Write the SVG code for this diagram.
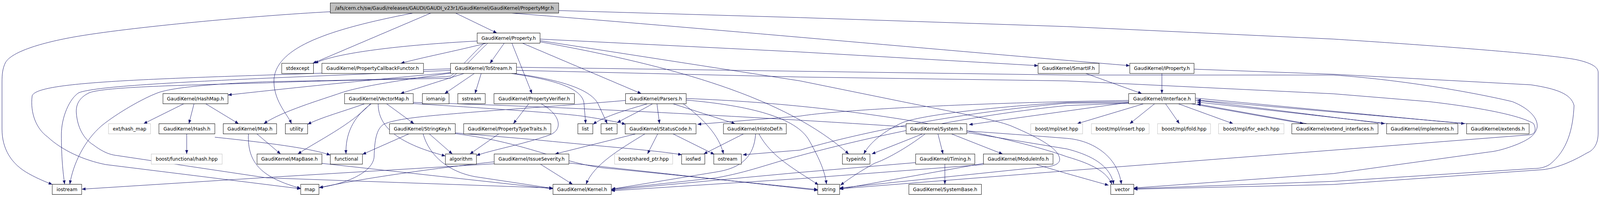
<svg xmlns="http://www.w3.org/2000/svg" width="4379" height="504" viewBox="0 0 4379 504" preserveAspectRatio="none">
<defs>
<marker id="a" markerWidth="10" markerHeight="8" refX="10" refY="4" orient="auto" markerUnits="userSpaceOnUse"><path d="M0,0 L10,4 L0,8 z" fill="#191970"/></marker>
<style>
svg{width:100vw;height:100vh}
.n rect{fill:#fff;stroke:#000;stroke-width:1}
.g rect{fill:#fff;stroke:#bfbfbf;stroke-width:1}
.m rect{fill:#bfbfbf;stroke:#000;stroke-width:1}
text{font-family:"DejaVu Sans",sans-serif;font-size:13px;text-anchor:middle;fill:#000}
.e path{fill:none;stroke:#191970;stroke-width:1;marker-end:url(#a)}
</style>
</defs>
<rect width="4379" height="504" fill="#fff"/>
<g id="edges" class="e">
<path d="M904,30 C700,40 350,70 200,95 C100,112 30,135 15,160 C7,175 5.5,190 5.5,210 L5.5,330 C5.5,380 30,420 80,445 C105,458 125,465 143,472"/>
<path d="M1130,33.5 C900,75 760,120 750,200 C746,255 785,290 798,316.5"/>
<path d="M1179,33.5 L856,162"/>
<path d="M1247,33.5 L1360,84.5"/>
<path d="M1529,27 L2190,45 L2920,68 L3650,100 C3950,118 4250,140 4316,153 C4350,160 4374,170 4374,185 L4374,340 C4374,370 4360,385 4344,391 C4300,415 4260,430 4223,434 L3650,472 L3103,484"/>
<path d="M1400,33.5 C1900,70 2600,130 3092,168"/>
<path d="M1306,105 C1100,115 920,135 861,162"/>
<path d="M1331,110.5 C1250,130 1150,148 1097,162"/>
<path d="M1380,110.5 L1341,162"/>
<path d="M1401,110.5 L1456,239.5"/>
<path d="M1430,110.5 L1755,239.5"/>
<path d="M1478,100 L2190,133 L2841,168"/>
<path d="M1478,104 L2190,207 L2469,260 C2600,285 2720,305 2767,322 C2850,355 2895,380 2900,405 C2903,420 2880,426 2865,426 L2298,481"/>
<path d="M1478,107 C1850,170 2150,250 2323,394"/>
<path d="M1325,110.5 C1290,140 1260,175 1233,195 C1100,203 900,206 730,209 C600,214 480,222 433,237 C390,252 320,290 279,321 C230,360 200,420 191,471.5"/>
<path d="M1335,110.5 C1295,145 1265,180 1233,200 C1000,205 850,207 730,212 C500,218 290,222 245,237 C215,250 207,270 209,290 C212,325 228,355 256,371 C280,388 300,396 321,398 L730,455 L1513,481"/>
<path d="M1233,186 C1000,205 750,230 624,243"/>
<path d="M1233,187 C1100,205 990,220 935,237 C880,255 770,285 722,316.5"/>
<path d="M1270,188 L1096,239.5"/>
<path d="M1298,188 L1217,239.5"/>
<path d="M1317,188 L1300,239.5"/>
<path d="M1400,188 C1520,205 1590,225 1598,262 L1603,316.5"/>
<path d="M1408,188 C1540,205 1620,230 1638,268 L1662,316.5"/>
<path d="M1233,176 L730,192 C300,205 100,215 88,245 C82,290 100,330 130,350 C170,385 230,410 289,421 L823,483"/>
<path d="M1233,180 L730,200 C450,212 260,222 216,237 C190,252 168,300 168,344 C168,400 172,440 177,471.5"/>
<path d="M1413,172 L2920,192 L3650,192 C3850,205 4050,240 4139,260 C4180,275 4210,300 4207,325 C4203,350 4170,362 4153,369 C4110,385 4085,388 4074,389 L3650,444 L3103,481"/>
<path d="M1413,180 L2190,197 L2920,207 L3650,240 L3911,260 C4050,275 4160,295 4197,316 C4205,330 4203,344 4185,345 L3650,384 L2920,437 L2298,483"/>
<path d="M1447,265.5 L1405,316.5"/>
<path d="M1481,265.5 C1530,290 1545,330 1505,345 C1430,370 1340,385 1304,398"/>
<path d="M1365,342.5 L1286,394"/>
<path d="M998,265.5 C940,285 880,300 842,318"/>
<path d="M1014,265.5 C960,320 870,360 815,394"/>
<path d="M1016,265.5 C965,300 945,345 947,394"/>
<path d="M1035,265.5 C1035,320 1080,365 1219,399"/>
<path d="M1058,265.5 L1133,316.5"/>
<path d="M1131,265 C1300,275 1550,290 1600,298 C1650,305 1690,312 1712,318"/>
<path d="M1131,262 C1800,280 2600,330 2920,354 C2990,359 3060,400 3069,471.5"/>
<path d="M1772,265.5 C1700,285 1650,300 1623,318"/>
<path d="M1786,265.5 C1750,285 1715,300 1689,314"/>
<path d="M1798,265.5 L1805,316.5"/>
<path d="M1842,265.5 L2012,316.5"/>
<path d="M1712,257 C1550,270 1350,282 1242,291 C1150,298 1080,305 1050,318 C1030,330 1025,360 1024,400 C1022,440 950,470 873,480"/>
<path d="M1878,256 C2050,270 2180,300 2215,360 C2245,410 2258,440 2262,471.5"/>
<path d="M1878,252 C2400,270 2800,360 2920,401 C2990,420 3030,440 3043,471.5"/>
<path d="M1870,265.5 C1925,305 1968,345 1980,394"/>
<path d="M1119,342.5 L992,395"/>
<path d="M1175,342.5 L1238,394"/>
<path d="M1158,342.5 C1175,400 1230,440 1300,452 L1513,482"/>
<path d="M1246,340 L1460,357 C1650,375 1800,385 1866,396"/>
<path d="M1246,342 C1450,365 1550,425 1680,432 L2238,485"/>
<path d="M503,265.5 L393,316.5"/>
<path d="M531,265.5 L517,316.5"/>
<path d="M563,265.5 L653,316.5"/>
<path d="M511,342.5 L511,394"/>
<path d="M588,351 C700,362 850,378 904,397"/>
<path d="M703,342.5 L768,394"/>
<path d="M680,342.5 C676,420 720,455 823,482"/>
<path d="M881,418 L1513,483"/>
<path d="M1740,342.5 L1519,394"/>
<path d="M1765,342.5 C1700,380 1625,420 1604,471.5"/>
<path d="M1800,342.5 L1772,394"/>
<path d="M1842,342.5 L1955,395"/>
<path d="M2035,342.5 L1926,394"/>
<path d="M2068,342.5 C2064,400 2030,430 1960,440 L1673,484"/>
<path d="M2077,342.5 C2110,400 2170,430 2240,473"/>
<path d="M1479,420 L1567,471.5"/>
<path d="M1557,417 L2238,487"/>
<path d="M1352,419 L730,454 L224,484"/>
<path d="M1352,414 C1100,440 950,465 874,480"/>
<path d="M2525,342.5 L2386,394"/>
<path d="M2532,342.5 C2480,380 2420,410 2395,417 C2350,440 2320,460 2300,474"/>
<path d="M2567,342.5 L2581,394"/>
<path d="M2604,342.5 L2744,394"/>
<path d="M2646,339 L2920,381 C3000,400 3040,430 3048,471.5"/>
<path d="M2586,420 L2586,471.5"/>
<path d="M2506,416 L2190,441 L1673,486"/>
<path d="M2691.5,421 L2190,457 L1673,488"/>
<path d="M2691.5,418 L2298,484"/>
<path d="M2837,421 L2920,444 L3034,474"/>
<path d="M3130,265.5 L2948,316.5"/>
<path d="M3160,265.5 L3092,316.5"/>
<path d="M3190,265.5 L3228,316.5"/>
<path d="M3225,265.5 L3375,316.5"/>
<path d="M3260,265.5 L3568,316.5"/>
<path d="M3271.5,256 L3790,316.5"/>
<path d="M3271.5,251 L4009,316.5"/>
<path d="M3578,316.5 L3276,266"/>
<path d="M3800,316.5 L3276,261"/>
<path d="M4018,316.5 L3276,256"/>
<path d="M3089,262 L2920,284 L2652,319"/>
<path d="M3089,257 C2700,262 2300,280 2190,297 L1909,318"/>
<path d="M3089,263 L2920,264 C2600,290 2330,345 2190,384 L2033,396"/>
<path d="M3089,260 L2920,262 C2700,275 2520,295 2469,314 C2420,335 2380,365 2364,394"/>
<path d="M3089,264 L2920,270 C2600,300 2300,370 2190,398 C2100,420 2050,440 1960,455 L1674,484"/>
<path d="M3180,188 L3180,239.5"/>
<path d="M3268,177 L3650,190 L4190,217 C4260,227 4300,240 4308,270 C4305,330 4290,385 4241,421 C4225,430 4210,431 4199,431 L3650,464 L3103,482.5"/>
<path d="M2972,188 L3125,239.5"/>
</g>
<g id="n_main" class="m"><rect x="904" y="7.5" width="625" height="26"/><text x="1216.5" y="25">/afs/cern.ch/sw/Gaudi/releases/GAUDI/GAUDI_v23r1/GaudiKernel/GaudiKernel/PropertyMgr.h</text></g>
<g id="n_property" class="n"><rect x="1306" y="84.5" width="172" height="26"/><text x="1392" y="102">GaudiKernel/Property.h</text></g>
<g id="n_stdexcept" class="n"><rect x="771" y="162" width="87" height="26"/><text x="814.5" y="179.5">stdexcept</text></g>
<g id="n_pcbf" class="n"><rect x="881" y="162" width="278" height="26"/><text x="1020" y="179.5">GaudiKernel/PropertyCallbackFunctor.h</text></g>
<g id="n_tostream" class="n"><rect x="1233" y="162" width="180.5" height="26"/><text x="1323.25" y="179.5">GaudiKernel/ToStream.h</text></g>
<g id="n_smartif" class="n"><rect x="2841" y="162" width="167" height="26"/><text x="2924.5" y="179.5">GaudiKernel/SmartIF.h</text></g>
<g id="n_iproperty" class="n"><rect x="3092" y="162" width="176" height="26"/><text x="3180" y="179.5">GaudiKernel/IProperty.h</text></g>
<g id="n_hashmap" class="n"><rect x="446" y="239.5" width="178" height="26"/><text x="535" y="257">GaudiKernel/HashMap.h</text></g>
<g id="n_vectormap" class="n"><rect x="943" y="239.5" width="188" height="26"/><text x="1037" y="257">GaudiKernel/VectorMap.h</text></g>
<g id="n_iomanip" class="n"><rect x="1156" y="239.5" width="73" height="26"/><text x="1192.5" y="257">iomanip</text></g>
<g id="n_sstream" class="n"><rect x="1253" y="239.5" width="75" height="26"/><text x="1290.5" y="257">sstream</text></g>
<g id="n_pverifier" class="n"><rect x="1352" y="239.5" width="220" height="26"/><text x="1462" y="257">GaudiKernel/PropertyVerifier.h</text></g>
<g id="n_parsers" class="n"><rect x="1712" y="239.5" width="166" height="26"/><text x="1795" y="257">GaudiKernel/Parsers.h</text></g>
<g id="n_iinterface" class="n"><rect x="3089" y="239.5" width="182.5" height="26"/><text x="3180.25" y="257">GaudiKernel/IInterface.h</text></g>
<g id="n_exthashmap" class="g"><rect x="297" y="316.5" width="115" height="26"/><text x="354.5" y="334">ext/hash_map</text></g>
<g id="n_hash" class="n"><rect x="435" y="316.5" width="153" height="26"/><text x="511.5" y="334">GaudiKernel/Hash.h</text></g>
<g id="n_map_h" class="n"><rect x="611" y="316.5" width="146" height="26"/><text x="684" y="334">GaudiKernel/Map.h</text></g>
<g id="n_utility" class="n"><rect x="781" y="316.5" width="61" height="26"/><text x="811.5" y="334">utility</text></g>
<g id="n_stringkey" class="n"><rect x="1066" y="316.5" width="180" height="26"/><text x="1156" y="334">GaudiKernel/StringKey.h</text></g>
<g id="n_ptypetraits" class="n"><rect x="1269" y="316.5" width="238.5" height="26"/><text x="1388.25" y="334">GaudiKernel/PropertyTypeTraits.h</text></g>
<g id="n_list" class="n"><rect x="1581.5" y="316.5" width="41" height="26"/><text x="1602" y="334">list</text></g>
<g id="n_set" class="n"><rect x="1645" y="316.5" width="44" height="26"/><text x="1667" y="334">set</text></g>
<g id="n_statuscode" class="n"><rect x="1711" y="316.5" width="194" height="26"/><text x="1808" y="334">GaudiKernel/StatusCode.h</text></g>
<g id="n_histodef" class="n"><rect x="1980" y="316.5" width="172" height="26"/><text x="2066" y="334">GaudiKernel/HistoDef.h</text></g>
<g id="n_system" class="n"><rect x="2480" y="316.5" width="166" height="26"/><text x="2563" y="334">GaudiKernel/System.h</text></g>
<g id="n_mplset" class="g"><rect x="2821" y="316.5" width="142" height="26"/><text x="2892" y="334">boost/mpl/set.hpp</text></g>
<g id="n_mplinsert" class="g"><rect x="2987" y="316.5" width="158" height="26"/><text x="3066" y="334">boost/mpl/insert.hpp</text></g>
<g id="n_mplfold" class="g"><rect x="3168" y="316.5" width="145" height="26"/><text x="3240.5" y="334">boost/mpl/fold.hpp</text></g>
<g id="n_mplforeach" class="g"><rect x="3335" y="316.5" width="179" height="26"/><text x="3424.5" y="334">boost/mpl/for_each.hpp</text></g>
<g id="n_extendif" class="n"><rect x="3535.5" y="316.5" width="236" height="26"/><text x="3653.5" y="334">GaudiKernel/extend_interfaces.h</text></g>
<g id="n_implements" class="n"><rect x="3795" y="316.5" width="195" height="26"/><text x="3892.5" y="334">GaudiKernel/implements.h</text></g>
<g id="n_extends" class="n"><rect x="4014" y="316.5" width="171" height="26"/><text x="4099.5" y="334">GaudiKernel/extends.h</text></g>
<g id="n_funchash" class="g"><rect x="414" y="394" width="194" height="26"/><text x="511" y="411.5">boost/functional/hash.hpp</text></g>
<g id="n_mapbase" class="n"><rect x="703.5" y="394" width="177.5" height="26"/><text x="792.25" y="411.5">GaudiKernel/MapBase.h</text></g>
<g id="n_functional" class="n"><rect x="904" y="394" width="88" height="26"/><text x="948" y="411.5">functional</text></g>
<g id="n_algorithm" class="n"><rect x="1219" y="394" width="85" height="26"/><text x="1261.5" y="411.5">algorithm</text></g>
<g id="n_issuesev" class="n"><rect x="1352.5" y="394" width="204.5" height="26"/><text x="1454.75" y="411.5">GaudiKernel/IssueSeverity.h</text></g>
<g id="n_sharedptr" class="g"><rect x="1682" y="394" width="159" height="26"/><text x="1761.5" y="411.5">boost/shared_ptr.hpp</text></g>
<g id="n_iosfwd" class="n"><rect x="1865.5" y="394" width="63.5" height="26"/><text x="1897.25" y="411.5">iosfwd</text></g>
<g id="n_ostream" class="n"><rect x="1953.5" y="394" width="75.5" height="26"/><text x="1991.25" y="411.5">ostream</text></g>
<g id="n_typeinfo" class="n"><rect x="2305.5" y="394" width="75.5" height="26"/><text x="2343.25" y="411.5">typeinfo</text></g>
<g id="n_timing" class="n"><rect x="2506" y="394" width="162" height="26"/><text x="2587" y="411.5">GaudiKernel/Timing.h</text></g>
<g id="n_moduleinfo" class="n"><rect x="2691.5" y="394" width="190.5" height="26"/><text x="2786.75" y="411.5">GaudiKernel/ModuleInfo.h</text></g>
<g id="n_iostream" class="n"><rect x="143" y="471.5" width="80.5" height="26"/><text x="183.25" y="489">iostream</text></g>
<g id="n_map" class="n"><rect x="823" y="471.5" width="50" height="26"/><text x="848" y="489">map</text></g>
<g id="n_kernel" class="n"><rect x="1513.5" y="471.5" width="159.5" height="26"/><text x="1593.25" y="489">GaudiKernel/Kernel.h</text></g>
<g id="n_string" class="n"><rect x="2238" y="471.5" width="60" height="26"/><text x="2268" y="489">string</text></g>
<g id="n_systembase" class="n"><rect x="2487.5" y="471.5" width="198.5" height="26"/><text x="2586.75" y="489">GaudiKernel/SystemBase.h</text></g>
<g id="n_vector" class="n"><rect x="3040" y="471.5" width="63" height="26"/><text x="3071.5" y="489">vector</text></g>
</svg>
